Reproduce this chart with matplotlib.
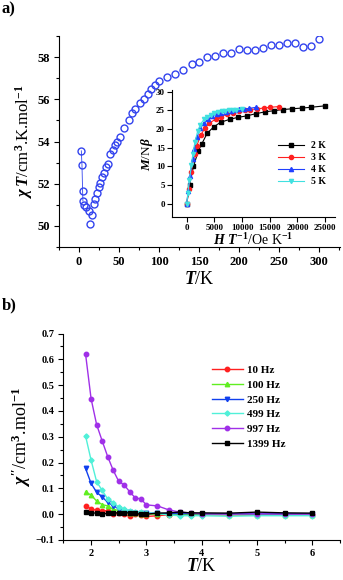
import numpy as np
import matplotlib
matplotlib.use("Agg")
from matplotlib import pyplot as plt
from matplotlib.ticker import MultipleLocator

plt.rcParams['font.family'] = ['Liberation Serif', 'DejaVu Serif']
plt.rcParams['font.weight'] = 'bold'
plt.rcParams['mathtext.fontset'] = 'custom'
plt.rcParams['mathtext.rm'] = 'Liberation Serif:bold'
plt.rcParams['mathtext.it'] = 'Liberation Serif:bold:italic'
plt.rcParams['mathtext.bf'] = 'Liberation Serif:bold'

# a) chi*T vs T
T_a = [2.9, 3.7, 4.5, 4.9, 6.6, 8.7, 12.4, 13.3, 16.2, 18.2, 20.3, 22.4, 24.9, 26.6,
       29.0, 30.7, 33.2, 35.7, 39.0, 41.9, 45.3, 47.4, 50.6, 55.7, 61.9, 66.0, 70.2,
       75.6, 80.6, 85.6, 89.7, 95.1, 100.5, 109.7, 120.0, 130.4, 140.8, 150.4, 160.4,
       170.0, 179.5, 189.5, 199.4, 209.4, 220.0, 230.2, 240.1, 250.1, 260.1, 270.0,
       280.0, 290.0, 300.0]
chiT = [53.56, 52.89, 51.65, 51.18, 50.99, 50.88, 50.69, 50.08, 50.51, 51.03, 51.30,
        51.54, 51.83, 52.05, 52.33, 52.52, 52.78, 52.92, 53.40, 53.60, 53.84, 54.00,
        54.21, 54.63, 55.00, 55.35, 55.54, 55.83, 56.02, 56.25, 56.49, 56.70, 56.86,
        57.06, 57.22, 57.38, 57.65, 57.76, 58.02, 58.05, 58.17, 58.21, 58.40, 58.33,
        58.33, 58.41, 58.57, 58.56, 58.68, 58.68, 58.48, 58.52, 58.84]

# inset M/Nbeta vs H/T
HT_2K = [0, 500, 1200, 2100, 2700, 3700, 4900, 6100, 7800, 9200, 10800, 12500, 14200,
         15800, 17300, 19000, 20800, 22400, 25000]
M_2K = [0, 5.0, 10.0, 14.2, 16.0, 18.9, 20.6, 21.8, 22.6, 23.1, 23.5, 24.1, 24.6,
        24.9, 25.2, 25.4, 25.6, 25.8, 26.2]
HT_3K = [0, 330, 800, 1400, 1800, 2500, 3300, 4100, 5200, 6100, 7200, 8300, 9500,
         10600, 11500, 12700, 13900, 15000, 16600]
M_3K = [0, 4.0, 8.5, 13.2, 15.5, 18.3, 20.3, 21.6, 22.6, 23.3, 23.9, 24.3, 24.7,
        25.0, 25.2, 25.4, 25.6, 25.8, 26.0]
HT_4K = [0, 250, 600, 1050, 1350, 1850, 2450, 3050, 3900, 4600, 5400, 6250, 7100,
         7900, 8650, 9500, 10400, 11200, 12500]
M_4K = [0, 3.5, 7.5, 12.0, 14.7, 17.8, 20.2, 21.6, 22.7, 23.4, 23.9, 24.3, 24.6,
        24.9, 25.1, 25.3, 25.4, 25.5, 25.8]
HT_5K = [0, 200, 480, 840, 1080, 1480, 1960, 2440, 3120, 3680, 4320, 5000, 5680,
         6320, 6920, 7600, 8320, 8960, 10000]
M_5K = [0, 3.0, 6.5, 10.5, 13.2, 16.6, 19.4, 21.2, 22.6, 23.3, 23.8, 24.2, 24.5,
        24.7, 24.9, 25.0, 25.1, 25.2, 25.3]

# b) chi'' vs T
T_b = [1.9, 2.0, 2.1, 2.2, 2.3, 2.4, 2.5, 2.6, 2.7, 2.8, 2.9, 3.0, 3.2, 3.4, 3.6,
       3.8, 4.0, 4.5, 5.0, 5.5, 6.0]
chi_10 = [0.033, 0.020, 0.015, 0.012, 0.014, -0.001, 0.005, 0.000, -0.009, 0.001,
          -0.005, -0.009, -0.006, -0.002, -0.001, -0.002, -0.002, -0.003, -0.004,
          -0.003, -0.003]
chi_100 = [0.086, 0.074, 0.051, 0.037, 0.032, 0.019, 0.014, 0.008, 0.005, 0.003,
           0.002, 0.001, 0.000, 0.000, -0.001, -0.001, -0.001, -0.002, -0.002,
           -0.002, -0.002]
chi_250 = [0.177, 0.119, 0.085, 0.067, 0.046, 0.033, 0.020, 0.014, 0.009, 0.006,
           0.005, 0.004, 0.003, 0.002, 0.002, 0.002, 0.002, 0.002, 0.002, 0.002, 0.002]
chi_499 = [0.303, 0.209, 0.126, 0.092, 0.059, 0.045, 0.027, 0.020, 0.013, 0.009,
           0.008, 0.005, 0.003, -0.003, -0.006, -0.006, -0.006, -0.008, -0.006,
           -0.006, -0.006]
chi_997 = [0.620, 0.447, 0.347, 0.284, 0.223, 0.170, 0.127, 0.113, 0.086, 0.063,
           0.059, 0.036, 0.032, 0.017, 0.008, 0.005, 0.001, 0.000, 0.001, 0.000, 0.000]
chi_1399 = [0.008, 0.005, 0.004, 0.000, 0.003, 0.005, 0.005, 0.005, 0.005, 0.004,
            -0.001, 0.000, 0.004, 0.005, 0.008, 0.005, 0.005, 0.004, 0.008, 0.005,
            0.004]

fig = plt.figure(figsize=(3.43, 5.80), dpi=100)


def style(ax, size, pad=3.0):
    ax.spines['top'].set_visible(False)
    ax.spines['right'].set_visible(False)
    ax.tick_params(which='both', direction='out', labelsize=size, width=0.8, pad=pad)
    ax.tick_params(which='major', length=3.5)
    ax.tick_params(which='minor', length=2)
    for lab in ax.get_xticklabels() + ax.get_yticklabels():
        lab.set_fontweight('bold')


# ---- panel a ----
ax1 = fig.add_axes([0.172, 0.574, 0.819, 0.364])
ax1.plot(T_a[:4], chiT[:4], '-', color='#3344ee', lw=0.6)
ax1.plot(T_a, chiT, 'o', ms=5.0, mfc='none', mec='#3344ee', mew=1.0, ls='none')
ax1.set_xlim(-25, 326)
ax1.set_ylim(49, 59)
ax1.xaxis.set_major_locator(MultipleLocator(50))
ax1.xaxis.set_minor_locator(MultipleLocator(25))
ax1.yaxis.set_major_locator(MultipleLocator(2))
ax1.yaxis.set_minor_locator(MultipleLocator(1))
style(ax1, 9)
ax1.set_xlabel(r'$T$/K', fontsize=13, labelpad=2)
ax1.set_ylabel(r'$\chi\,T$/cm$^3$.K.mol$^{-1}$', fontsize=12, labelpad=2)

ins = fig.add_axes([0.501, 0.626, 0.476, 0.218])
ins.plot(HT_2K, M_2K, '-s', color='black', ms=2.8, lw=0.8)
ins.plot(HT_3K, M_3K, '-o', color='#ff2020', ms=3.0, lw=0.8)
ins.plot(HT_4K, M_4K, '-^', color='#2040ff', ms=3.0, lw=0.8)
ins.plot(HT_5K, M_5K, '-v', color='#40e0e0', ms=3.0, lw=0.8)
ins.set_xlim(-2700, 26800)
ins.set_ylim(-3.5, 30.3)
ins.xaxis.set_major_locator(MultipleLocator(5000))
ins.yaxis.set_major_locator(MultipleLocator(5))
style(ins, 6.5, pad=1.5)
ins.patch.set_alpha(0)
ins.set_xlabel(r'$H\ T^{-1}$/Oe K$^{-1}$', fontsize=10, labelpad=0)
ins.set_ylabel(r'$M$/N$\beta$', fontsize=9.5, labelpad=1)
ins.legend(['2 K', '3 K', '4 K', '5 K'], loc='center right', bbox_to_anchor=(1.0, 0.42),
           frameon=False, handlelength=2.6, labelspacing=0.3,
           prop={'weight': 'bold', 'size': 7})

# ---- panel b ----
ax2 = fig.add_axes([0.185, 0.069, 0.806, 0.356])
ax2.plot(T_b, chi_10, '-o', color='#ff2020', ms=3.2, lw=1.0, label='10 Hz')
ax2.plot(T_b, chi_100, '-^', color='#60ee20', ms=3.2, lw=1.0, label='100 Hz')
ax2.plot(T_b, chi_250, '-v', color='#1040ee', ms=3.2, lw=1.0, label='250 Hz')
ax2.plot(T_b, chi_499, '-D', color='#50f0d8', ms=2.6, lw=1.0, label='499 Hz')
ax2.plot(T_b, chi_997, '-o', color='#a030e8', ms=3.2, lw=1.0, label='997 Hz')
ax2.plot(T_b, chi_1399, '-s', color='black', ms=3.0, lw=1.0, label='1399 Hz')
ax2.set_xlim(1.5, 6.5)
ax2.set_ylim(-0.1, 0.7)
ax2.xaxis.set_major_locator(MultipleLocator(1))
ax2.xaxis.set_minor_locator(MultipleLocator(0.5))
ax2.yaxis.set_major_locator(MultipleLocator(0.1))
ax2.yaxis.set_minor_locator(MultipleLocator(0.05))
style(ax2, 7.5)
ax2.set_xlabel(r'$T$/K', fontsize=13, labelpad=0)
ax2.set_ylabel(r"$\chi''$/cm$^3$.mol$^{-1}$", fontsize=13, labelpad=2)
ax2.legend(loc='upper left', bbox_to_anchor=(0.50, 0.895), frameon=False,
           handlelength=2.8, labelspacing=0.45, handletextpad=0.4,
           prop={'weight': 'bold', 'size': 8})

fig.text(0.005, 0.997, 'a)', fontsize=12, fontweight='bold', va='top')
fig.text(0.005, 0.487, 'b)', fontsize=12, fontweight='bold', va='top')

fig.savefig('out.png', dpi=100)
